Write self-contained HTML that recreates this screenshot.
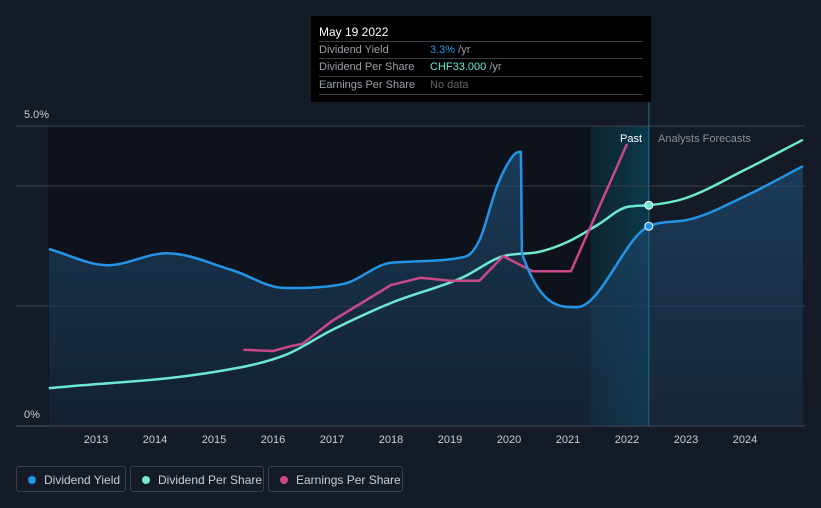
<!DOCTYPE html>
<html><head><meta charset="utf-8">
<style>
body{margin:0;background:#151b26;font-family:"Liberation Sans",sans-serif;}
#wrap{position:relative;width:821px;height:508px;overflow:hidden;background:#151b26;}
svg{position:absolute;left:0;top:0}
.tip{position:absolute;left:311px;top:16px;width:340px;height:86px;background:#000;}
.tip .d{position:absolute;left:8px;top:9px;color:#fff;font-size:12px}
.row{position:absolute;left:8px;width:324px;height:17px;border-top:1px solid #3a3f47;font-size:11px;color:#9aa0a8;line-height:17px}
.row span.v{position:absolute;left:111px}
.leg{position:absolute;top:466px;height:26px;border:1px solid #3b414c;border-radius:3px;color:#c9ced6;font-size:12px;line-height:26px;box-sizing:border-box}
.leg i{position:absolute;left:11px;top:9px;width:8px;height:8px;border-radius:50%}
.leg span{position:absolute;left:27px}
</style></head><body>
<div id="wrap">
<svg id="chart" width="821" height="508"></svg>
<div class="tip">
<div class="d">May 19 2022</div>
<div class="row" style="top:25px">Dividend Yield<span class="v"><span style="color:#2394e8">3.3%</span> /yr</span></div>
<div class="row" style="top:42px">Dividend Per Share<span class="v"><span style="color:#6ee8d2">CHF33.000</span> /yr</span></div>
<div class="row" style="top:60px;border-bottom:1px solid #3a3f47">Earnings Per Share<span class="v" style="color:#666">No data</span></div>
</div>
<div class="leg" style="left:16px;width:110px"><i style="background:#2394e8"></i><span>Dividend Yield</span></div>
<div class="leg" style="left:130px;width:134px"><i style="background:#6ee8d2"></i><span>Dividend Per Share</span></div>
<div class="leg" style="left:268px;width:135px"><i style="background:#c8488a"></i><span>Earnings Per Share</span></div>
</div>
<script>
const yieldYears=[2012.2,2013.2,2014.2,2015.3,2016.2,2017.2,2018.0,2019.25,2019.5,2019.8,2020.05,2020.18,2020.2,2020.22,2021.15,2022.37,2023.0,2024.0,2024.98];
const yieldVals=[2.95,2.68,2.88,2.6,2.3,2.37,2.72,2.82,3.1,4.0,4.48,4.57,4.57,2.88,1.98,3.33,3.43,3.83,4.33];
const dpsYears=[2012.2,2015.0,2016.2,2017.0,2018.0,2019.2,2019.9,2020.5,2021.0,2021.5,2022.0,2022.37,2023.0,2024.0,2024.98];
const dpsVals=[0.63,0.9,1.18,1.6,2.05,2.47,2.83,2.9,3.07,3.35,3.65,3.68,3.8,4.27,4.77];
const epsYears=[2015.5,2016.0,2016.3,2016.5,2017.0,2017.5,2018.0,2018.5,2019.0,2019.5,2019.9,2020.4,2021.05,2022.0];
const epsVals=[1.27,1.25,1.33,1.37,1.75,2.05,2.35,2.47,2.42,2.42,2.83,2.58,2.58,4.7];
const xTicks=[2013,2014,2015,2016,2017,2018,2019,2020,2021,2022,2023,2024];
const yTicks=[0,5];
const gridVals=[0,2,4,5];
const NS='http://www.w3.org/2000/svg';
const svg=document.getElementById('chart');
const x=yr=>96+(yr-2013)*59;
const y=v=>426-v*60;
function mk(t,a){const e=document.createElementNS(NS,t);for(const k in a)e.setAttribute(k,a[k]);svg.appendChild(e);return e;}
function path(xs,vs){const p=xs.map((t,i)=>[x(t),y(vs[i])]);const n=p.length;
const dl=[],m=[];for(let i=0;i<n-1;i++)dl.push((p[i+1][1]-p[i][1])/(p[i+1][0]-p[i][0]));
m[0]=dl[0];m[n-1]=dl[n-2];for(let i=1;i<n-1;i++){m[i]=(dl[i-1]*dl[i]<=0)?0:(dl[i-1]+dl[i])/2;}
for(let i=0;i<n-1;i++){if(dl[i]==0){m[i]=0;m[i+1]=0;continue;}const a=m[i]/dl[i],b=m[i+1]/dl[i],h=a*a+b*b;if(h>9){const t=3/Math.sqrt(h);m[i]=t*a*dl[i];m[i+1]=t*b*dl[i];}}
let d='M'+p[0][0]+','+p[0][1];
for(let i=0;i<n-1;i++){const h=(p[i+1][0]-p[i][0])/3;d+=`C${p[i][0]+h},${p[i][1]+m[i]*h} ${p[i+1][0]-h},${p[i+1][1]-m[i+1]*h} ${p[i+1][0]},${p[i+1][1]}`;}return d;}
function lin(xs,vs){return xs.map((t,i)=>(i?'L':'M')+x(t)+','+y(vs[i])).join('');}
const defs=mk('defs',{});
defs.innerHTML='<linearGradient id="hl" x1="0" x2="1"><stop offset="0" stop-color="#0b2a36" stop-opacity="0.6"/><stop offset="1" stop-color="#0a3a4e"/></linearGradient><linearGradient id="af" x1="0" y1="0" x2="0" y2="1"><stop offset="0" stop-color="#1d4a6e" stop-opacity="0.75"/><stop offset="1" stop-color="#1a3350" stop-opacity="0.45"/></linearGradient>';
let r=mk('rect',{x:48,y:126,width:x(2021.38)-48,height:300,fill:'#0e121a'});

r=mk('rect',{x:x(2021.38),y:126,width:x(2022.37)-x(2021.38),height:300,fill:'url(#hl)'});

gridVals.forEach(v=>{const l=mk('line',{x1:16,x2:805,y1:y(v),y2:y(v),stroke:v==0?'#4a505a':'#3a404a','stroke-width':1});
});
const yd=path(yieldYears,yieldVals);
let a=mk('path',{d:yd+`L${x(yieldYears[yieldYears.length-1])},426L${x(yieldYears[0])},426Z`,fill:'url(#af)'});

let l=mk('line',{x1:x(2022.37),x2:x(2022.37),y1:100,y2:426,stroke:'#1f6f8a','stroke-width':1});

let s=mk('path',{d:path(dpsYears,dpsVals),fill:'none',stroke:'#6ee8d2','stroke-width':2.5});

s=mk('path',{d:lin(epsYears,epsVals),fill:'none',stroke:'#c8488a','stroke-width':2.5,'stroke-linejoin':'round'});

s=mk('path',{d:yd,fill:'none',stroke:'#2394e8','stroke-width':2.5});

let c=mk('circle',{cx:x(2022.37),cy:y(dpsVals[11]),r:4,fill:'#6ee8d2',stroke:'#fff','stroke-width':1});

c=mk('circle',{cx:x(2022.37),cy:y(yieldVals[15]),r:4,fill:'#2394e8',stroke:'#fff','stroke-width':1});

xTicks.forEach(t=>{const e=mk('text',{x:x(t),y:443,fill:'#c9ced6','font-size':11,'text-anchor':'middle'});e.textContent=t;
});
yTicks.forEach(v=>{const e=mk('text',{x:24,y:y(v)-8,fill:'#c9ced6','font-size':11});e.textContent=v==0?'0%':v.toFixed(1)+'%';
});
let t=mk('text',{x:642,y:142,fill:'#fff','font-size':11,'text-anchor':'end'});t.textContent='Past';

t=mk('text',{x:658,y:142,fill:'#8a9099','font-size':11});t.textContent='Analysts Forecasts';

</script>
</body></html>
